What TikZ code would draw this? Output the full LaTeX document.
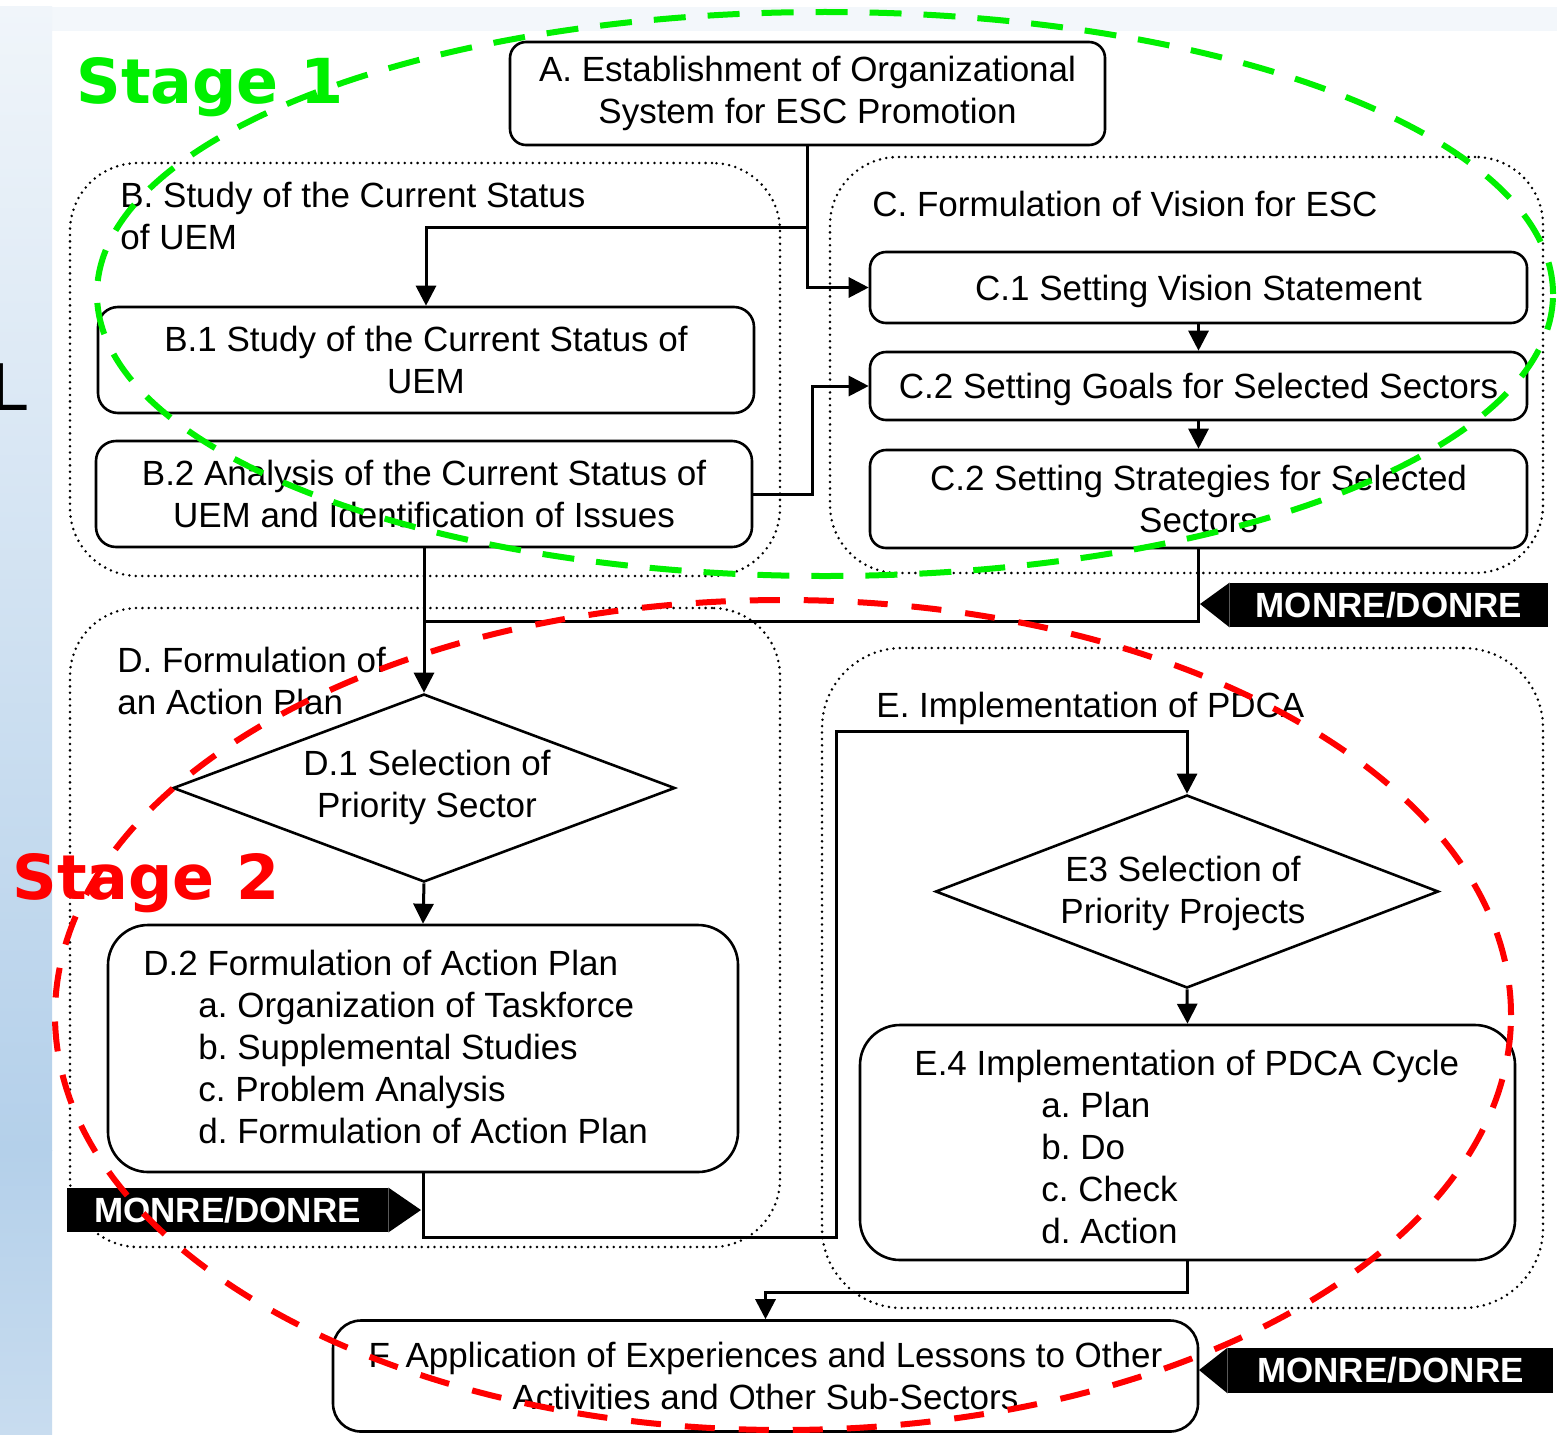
\documentclass[tikz,border=0pt]{standalone}
\usepackage{fontspec}
\setmainfont{Liberation Sans}
\newfontfamily\stagefont{DejaVu Sans}
\usetikzlibrary{arrows.meta,shapes.geometric}
\frenchspacing
\definecolor{stripcol}{HTML}{F3F7FB}
\definecolor{bartop}{HTML}{F0F5FA}
\definecolor{barmid}{HTML}{B4D0EA}
\definecolor{barbot}{HTML}{C8DCEF}
\definecolor{stageone}{HTML}{00F000}
\definecolor{stagetwo}{HTML}{FF0000}
\tikzset{
  box/.style={draw, line width=1.3pt, rounded corners=8pt, fill=white, align=center, inner sep=0pt},
  onebox/.style={box, text height=14pt, text depth=1.5pt},
  grp/.style={draw, line width=1.4pt, dash pattern=on 0pt off 3.2pt, line cap=round, rounded corners=34pt, inner sep=0pt},
  dia/.style={draw, diamond, line width=1.3pt, fill=white, inner sep=0pt},
  txt/.style={align=left, inner sep=0pt},
  conn/.style={line width=1.5pt},
  arr/.style={line width=1.5pt, -{Triangle[length=10pt,width=10pt]}},
  tagbox/.style={fill=black, text=white, font=\fontsize{17.5pt}{21pt}\selectfont\bfseries, inner sep=0pt, minimum height=22pt},
  stagelbl/.style={font=\fontsize{31pt}{36pt}\selectfont\stagefont\bfseries, inner sep=0pt, anchor=base west},
  ring/.style={line width=3pt}
}
\begin{document}
\begin{tikzpicture}[x=0.5pt,y=-0.5pt, font=\fontsize{17.5pt}{21pt}\selectfont]
\useasboundingbox (0,0) rectangle (1566,1434);
\begin{scope}
\clip (0,0) rectangle (1566,1434);
% background
\fill[white] (0,0) rectangle (1566,1434);
\fill[stripcol] (0,7) rectangle (1557,31);
\shade[top color=bartop, bottom color=barmid] (0,7) rectangle (52,1150);
\shade[top color=barmid, bottom color=barbot] (0,1150) rectangle (52,1434);
\node[font=\fontsize{34pt}{40pt}\selectfont, anchor=base west, inner sep=0pt] (Lchar) at (-9,410) {L};

% group boxes
\node[grp, minimum width=355pt, minimum height=206.5pt] (Bg) at (425,369.5) {};
\node[grp, minimum width=356.5pt, minimum height=208pt] (Cg) at (1186.5,365) {};
\node[grp, minimum width=355pt, minimum height=319.5pt] (Dg) at (425,927.5) {};
\node[grp, minimum width=360.5pt, minimum height=330pt, rounded corners=40pt] (Eg) at (1182.5,978) {};

\node[txt, anchor=west] (Bt) at (120,215.5) {B. Study of the Current Status\\of UEM};
\node[txt, anchor=base west] (Ct) at (872,216.5) {C. Formulation of Vision for ESC};
\node[txt, anchor=west] (Dt) at (117,681) {D. Formulation of\\an Action Plan};
\node[txt, anchor=base west] (Et) at (876,717.5) {E. Implementation of PDCA};

% boxes
\node[box, minimum width=297.5pt, minimum height=51.5pt] (A) at (807.5,93.5) {A. Establishment of Organizational\\System for ESC Promotion};
\node[box, minimum width=328pt, minimum height=53pt, rounded corners=10pt] (B1) at (426,360) {B.1 Study of the Current Status of\\UEM};
\node[box, minimum width=328pt, minimum height=53pt, rounded corners=10pt] (B2) at (424,494) {B.2 Analysis of the Current Status of\\UEM and Identification of Issues};
\node[onebox, minimum width=328.5pt, minimum height=35.5pt] (C1) at (1198.5,287.5) {C.1 Setting Vision Statement};
\node[onebox, minimum width=328.5pt, minimum height=34pt] (C2) at (1198.5,386) {C.2 Setting Goals for Selected Sectors};
\node[box, minimum width=328.5pt, minimum height=49pt] (C3) at (1198.5,499) {C.2 Setting Strategies for Selected\\Sectors};

\node[dia, minimum width=251pt, minimum height=94pt] (D1) at (424,788) {};
\node[align=center, inner sep=0pt] (D1t) at (427,787) {D.1 Selection of\\Priority Sector};
\node[box, minimum width=315pt, minimum height=123.5pt, rounded corners=20pt] (D2) at (423,1048.5) {};
\node[txt, anchor=north west] (D2t) at (143,950) {D.2 Formulation of Action Plan\\
\hspace*{27.5pt}a. Organization of Taskforce\\
\hspace*{27.5pt}b. Supplemental Studies\\
\hspace*{27.5pt}c. Problem Analysis\\
\hspace*{27.5pt}d. Formulation of Action Plan};

\node[dia, minimum width=251.5pt, minimum height=96.5pt] (E3) at (1187,891.5) {};
\node[align=center, inner sep=0pt] (E3t) at (1183,893) {E3 Selection of\\Priority Projects};
\node[box, minimum width=327.5pt, minimum height=117.5pt, rounded corners=20pt] (E4) at (1187.5,1142.5) {};
\node[txt, anchor=north west] (E4t) at (914,1050) {E.4 Implementation of PDCA Cycle\\
\hspace*{63.5pt}a. Plan\\
\hspace*{63.5pt}b. Do\\
\hspace*{63.5pt}c. Check\\
\hspace*{63.5pt}d. Action};

\node[box, minimum width=432.5pt, minimum height=55.5pt, rounded corners=14pt] (F) at (765.5,1376) {F. Application of Experiences and Lessons to Other\\Activities and Other Sub-Sectors};

% connectors
\coordinate (j1) at (424,621);
\coordinate (k1) at (836,731);
\draw[arr] (A.south) -- ++(0,81) -| (B1.north);
\draw[arr] (A.south) |- (C1.west);
\draw[arr] (B2.east) -- ++(59,0) |- (C2.west);
\draw[arr] (C1.south) -- (C2.north);
\draw[arr] (C2.south) -- (C3.north);
\draw[arr] (B2.south) -- (D1.north);
\draw[conn] (C3.south) |- (j1);
\draw[arr] (D1.south) -- (D2.north);
\draw[arr] (D2.south) -- ++(0,64) -| (k1) -| (E3.north);
\draw[arr] (E3.south) -- (E4.north);
\draw[arr] (E4.south) -- ++(0,31) -| (F.north);

% MONRE/DONRE tags
\node[tagbox, minimum width=159pt] (T1) at (1389,605) {MONRE/DONRE};
\coordinate (T1p) at (1200,604);
\fill (T1.north west) -- (T1p) -- (T1.south west) -- cycle;
\node[tagbox, minimum width=160.5pt] (T2) at (227.5,1210) {MONRE/DONRE};
\coordinate (T2p) at (421,1210);
\fill (T2.north east) -- (T2p) -- (T2.south east) -- cycle;
\node[tagbox, minimum width=162.5pt, minimum height=22.5pt] (T3) at (1390.5,1370.5) {MONRE/DONRE};
\coordinate (T3p) at (1199,1370);
\fill (T3.north west) -- (T3p) -- (T3.south west) -- cycle;

% stage rings
\draw[ring, stageone, dash pattern=on 16pt off 11pt] (825,294) ellipse [x radius=364pt, y radius=141pt];
\draw[ring, stagetwo, dash pattern=on 15pt off 12pt] (783,1015) ellipse [x radius=364pt, y radius=207.5pt];
\node[stagelbl, text=stageone] (S1) at (76,104) {Stage 1};
\node[stagelbl, text=stagetwo] (S2) at (12,899) {Stage 2};
\end{scope}
\end{tikzpicture}
\end{document}
